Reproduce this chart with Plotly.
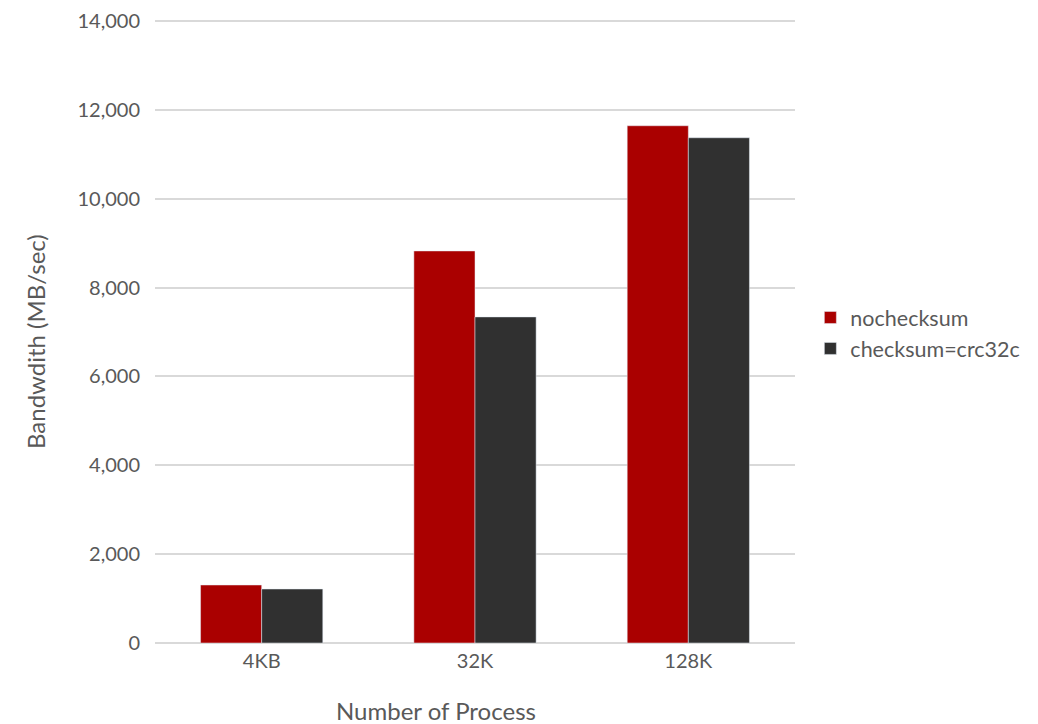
import plotly.graph_objects as go

categories = ["4KB", "32K", "128K"]
nochecksum = [1305, 8823, 11640]
crc32c = [1215, 7338, 11370]

fig = go.Figure()
fig.add_trace(go.Bar(x=categories, y=nochecksum, name="nochecksum", marker_color="#AA0000"))
fig.add_trace(go.Bar(x=categories, y=crc32c, name="checksum=crc32c", marker_color="#303030"))

font_color = "#595959"
plot_h = 724 - 12 - 81
fig.update_layout(
    width=1038, height=724,
    margin=dict(l=155, r=243, t=12, b=81, autoexpand=False),
    paper_bgcolor="white", plot_bgcolor="white",
    font=dict(family="Lato", color=font_color, size=20),
    barmode="group", bargap=0.427, bargroupgap=0,
    legend=dict(x=1.024, y=(643 - 333) / plot_h, yanchor="middle", xanchor="left",
                font=dict(size=21.5, color=font_color), itemwidth=30,
                tracegroupgap=5),
    xaxis=dict(showgrid=False, ticks="", showline=False, automargin=False,
               tickfont=dict(size=20, color=font_color), ticklabelstandoff=4),
    yaxis=dict(range=[0, 14200], tickvals=[0, 2000, 4000, 6000, 8000, 10000, 12000, 14000],
               tickformat=",", gridcolor="#D9D9D9", gridwidth=1.5, automargin=False,
               zeroline=True, zerolinecolor="#D9D9D9", zerolinewidth=1.5, showline=False,
               ticks="", tickfont=dict(size=20, color=font_color), ticklabelstandoff=14),
    annotations=[
        dict(text="Number of Process", xref="paper", yref="paper", x=(436 - 155) / 640, y=-(710 - 643) / plot_h,
             xanchor="center", yanchor="middle", showarrow=False, font=dict(size=24, color=font_color)),
        dict(text="Bandwdith (MB/sec)", xref="paper", yref="paper", x=-(155 - 35) / 640, y=(643 - 342) / plot_h,
             xanchor="center", yanchor="middle", textangle=-90, showarrow=False,
             font=dict(size=24, color=font_color)),
    ],
)
fig.write_html("out.html")
